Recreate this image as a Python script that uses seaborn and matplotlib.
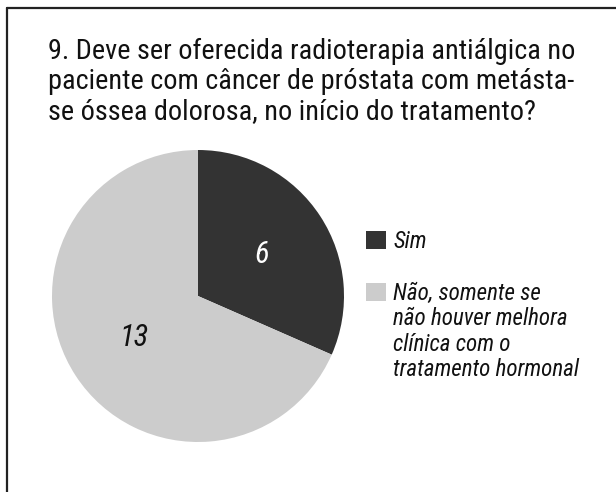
import matplotlib
matplotlib.use("Agg")
import matplotlib.pyplot as plt
import seaborn as sns
from matplotlib.lines import Line2D
from matplotlib.patches import Rectangle

sns.set_theme(style="white")
plt.rcParams['font.family'] = ['Roboto Condensed', 'Liberation Sans', 'DejaVu Sans']

title_lines = ["9. Deve ser oferecida radioterapia antiálgica no",
               "paciente com câncer de próstata com metásta-",
               "se óssea dolorosa, no início do tratamento?"]
categories = ["Sim", "Não, somente se\nnão houver melhora\nclínica com o\ntratamento hormonal"]
values = [6, 13]
colors = ["#333333", "#cccccc"]

W, H = 616, 492
fig = plt.figure(figsize=(W / 100, H / 100), dpi=100)
fig.patch.set_facecolor("white")


def fx(x):
    return x / W


def fy(y):
    return 1 - y / H


ax = fig.add_axes([fx(52), fy(442), 292 / W, 292 / H])
wedges, texts = ax.pie(values, colors=colors, startangle=90, counterclock=False,
                       labels=[str(v) for v in values], labeldistance=0.52,
                       wedgeprops=dict(linewidth=0))
for t, c in zip(texts, ["white", "#111111"]):
    t.set_color(c)
    t.set_fontsize(22)
    t.set_fontstyle("italic")
    t.set_ha("center")
    t.set_va("center")
ax.set_xlim(-1, 1)
ax.set_ylim(-1, 1)
ax.set_aspect("equal")
ax.axis("off")

# title, one line per baseline
for i, line in enumerate(title_lines):
    fig.text(fx(48), fy(59 + 30 * i), line, fontsize=20.3, va="baseline",
             ha="left", color="#111111")

# legend
entry_top = [231, 283]
for k, (lab, col) in enumerate(zip(categories, colors)):
    fig.add_artist(Rectangle((fx(366), fy(entry_top[k] + 18)), 20 / W, 18 / H,
                             transform=fig.transFigure, facecolor=col,
                             edgecolor="none"))
    for j, ln in enumerate(lab.split("\n")):
        fig.text(fx(393), fy(entry_top[k] + 17 + 25.3 * j), ln, fontsize=16.6,
                 style="italic", va="baseline", ha="left", color="#111111")

fig.add_artist(Line2D([fx(7), fx(7)], [0, fy(8)], color="#222222", lw=1.6))
fig.add_artist(Line2D([fx(7), 1], [fy(8), fy(8)], color="#222222", lw=1.6))

fig.savefig("out.png", dpi=100, facecolor="white")
